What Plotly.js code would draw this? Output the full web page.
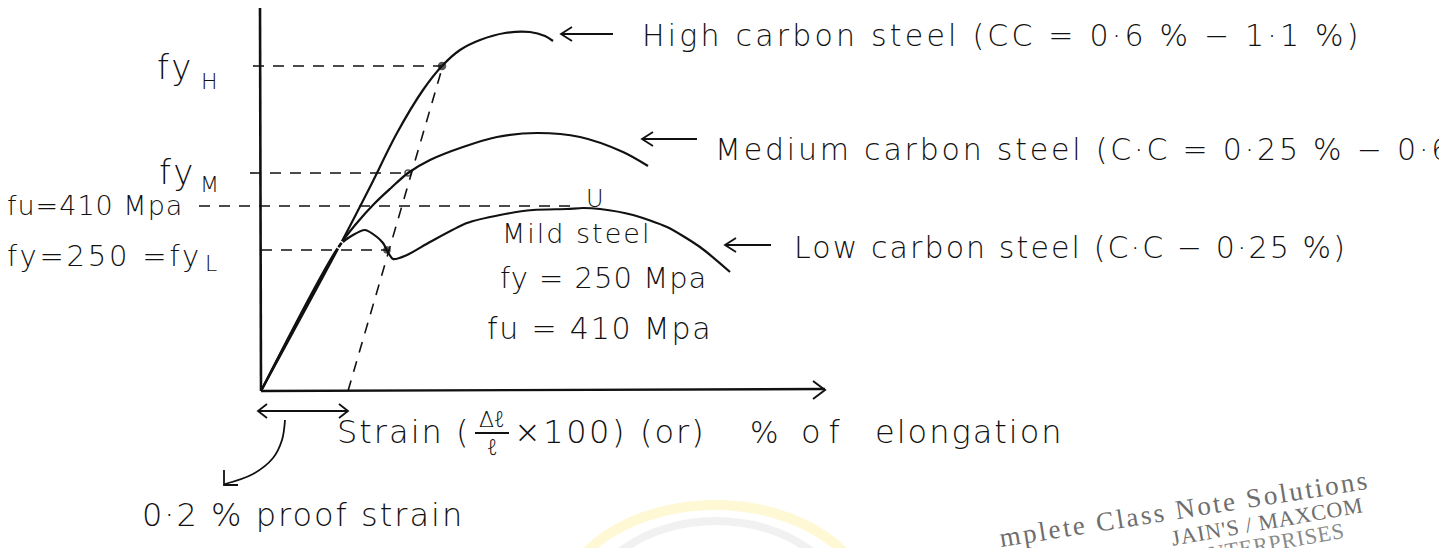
<!DOCTYPE html>
<html>
<head>
<meta charset="utf-8">
<script src="https://cdn.plot.ly/plotly-3.0.1.min.js"></script>
<style>
  html, body { margin: 0; padding: 0; background: #fff; overflow: hidden; }
  #chart { width: 1439px; height: 548px; }
</style>
</head>
<body>
<div id="chart"></div>
<script>
// Stress–strain sketch for steels. Units are drawing units:
// strain runs to the right from the origin, stress runs upward.

// High carbon steel curve
const highStrain = [0, 79, 109, 136, 162, 181, 199, 219, 244, 269, 284, 292];
const highStress = [0, 146, 204, 258, 301, 325, 341, 351, 358, 359, 355, 350];

// Medium carbon steel curve
const medStrain = [0, 79, 95, 113, 130, 147, 169, 202, 236, 276, 319, 362, 387];
const medStress = [0, 146, 167, 187, 203, 218, 231, 244, 254, 258, 254, 239, 225];

// Low carbon (mild) steel curve with upper / lower yield points
const mildStrain = [0, 79, 92, 104, 116, 122, 132, 146, 169, 206, 239, 272, 306, 322, 339, 372, 406, 439, 469];
const mildStress = [0, 146, 156, 161, 154, 148, 132, 136, 149, 168, 176, 181, 182, 183, 182, 176, 164, 144, 119];

// Yield levels (drawing units) and where each curve reaches them
const yieldHigh = 325, yieldHighStrain = 181;
const yieldMed = 218, yieldMedStrain = 147;
const yieldLow = 141, yieldLowStrain = 126;
const ultimateMild = 183, ultimateMildStrain = 322;
const elasticLimit = [79, 146];

// 0.2 % proof strain offset and the top of the offset line
const proofOffset = 87;
const proofTop = [182, 326];

// Axis extents
const axisTop = 383;
const axisEnd = 564;

// Text labels
const labelHigh = "High carbon steel (CC = 0·6 % − 1·1 %)";
const labelMed = "Medium carbon steel (C·C = 0·25 % − 0·6 %)";
const labelLow = "Low carbon steel (C·C − 0·25 %)";
const tickLabels = ["fy", "H", "fy", "M", "fu=410 Mpa", "fy=250 =fy", "L"];
const mildNotes = ["Mild steel", "fy = 250 Mpa", "fu = 410 Mpa"];
const strainTitle = ["Strain (", "Δℓ", "ℓ", "×100)", "(or)", "%", "of", "elongation"];
const proofNote = "0·2 % proof strain";
const stampLines = ["mplete Class Note Solutions", "JAIN'S / MAXCOM", "ENTERPRISES"];

const INK = '#111';
const HAND = { family: 'DejaVu Sans, Open Sans, sans-serif', color: INK, weight: 200 };

function font(size) { return Object.assign({}, HAND, { size: size }); }

function line(x, y, opts) {
  return Object.assign({
    type: 'scatter', mode: 'lines', x: x, y: y, hoverinfo: 'skip',
    line: { color: INK, width: 2 }
  }, opts || {});
}

// Left-pointing arrow: tip at (x, y), shaft of length len
function leftArrow(x, y, len) {
  return line([x + len, x, null, x + 11, x, x + 11], [y, y, null, y + 7, y, y - 7], { line: { color: INK, width: 1.8 } });
}

const dash = { color: INK, width: 1.6, dash: '11px,9px' };
const curve = (w, s) => ({ color: INK, width: w, shape: 'spline', smoothing: s });

const traces = [
  // axes
  line([0, -1], [0, axisTop], { line: { color: INK, width: 2.6 } }),
  line([0, axisEnd], [0, 2], { line: { color: INK, width: 2.4 } }),
  line([axisEnd - 12, axisEnd, axisEnd - 12], [10, 1, -8], { line: { color: INK, width: 2 } }),

  // dashed guides
  line([-8, yieldHighStrain], [yieldHigh, yieldHigh], { line: dash }),
  line([-11, yieldMedStrain], [yieldMed, yieldMed], { line: dash }),
  line([-62, ultimateMildStrain - 10], [ultimateMild + 2, ultimateMild + 2], { line: dash }),
  line([0, yieldLowStrain], [yieldLow, yieldLow], { line: dash }),
  line([proofOffset, proofTop[0]], [0, proofTop[1]], { line: dash }),

  // curves
  line(highStrain, highStress, { line: curve(2.2, 0.9) }),
  line(medStrain, medStress, { line: curve(2.2, 0.9) }),
  line(mildStrain, mildStress, { line: curve(2.2, 0.7) }),

  // yield markers
  { type: 'scatter', mode: 'markers', hoverinfo: 'skip',
    x: [yieldHighStrain, yieldMedStrain, yieldLowStrain],
    y: [yieldHigh, yieldMed, yieldLow],
    marker: { color: INK, size: [7, 6, 6], symbol: ['circle', 'circle-open-dot', 'circle'], line: { color: INK, width: 1.5 } } },
  { type: 'scatter', mode: 'markers', hoverinfo: 'skip',
    x: [elasticLimit[0]], y: [elasticLimit[1]],
    marker: { color: '#fff', size: 7, symbol: 'circle-open', line: { color: INK, width: 1.5 } } },

  // label arrows
  leftArrow(300, 357, 52),
  leftArrow(381, 252, 55),
  leftArrow(464, 146, 46),

  // proof strain span below the axis
  line([-3, proofOffset], [-20, -20], { line: { color: INK, width: 1.8 } }),
  line([6, -3, 6], [-13, -20, -27], { line: { color: INK, width: 1.8 } }),
  line([proofOffset - 9, proofOffset, proofOffset - 9], [-13, -20, -27], { line: { color: INK, width: 1.8 } }),

  // curved pointer to the note
  line([24, 21, 12, -8, -36], [-29, -49, -67, -83, -93], { line: curve(1.8, 1) }),
  line([-37, -37, -23], [-79, -94, -94], { line: { color: INK, width: 1.8 } }),

  // fraction bar
  line([214, 248], [-42, -42], { line: { color: INK, width: 1.8 } })
];

// annotation spec: [x, y, text, size, letterSpacing, extra]
const center = { xanchor: 'center', align: 'center' };
const textSpec = [
  [-106, 324, tickLabels[0], 34, 3],
  [-62, 310, tickLabels[1], 22, 0],
  [-104, 219, tickLabels[2], 34, 3],
  [-63, 207, tickLabels[3], 22, 0],
  [-256, 186, tickLabels[4], 27, 1],
  [-256, 135, tickLabels[5], 29, 2.8],
  [-58, 128, tickLabels[6], 22, 0],

  [239, 158, mildNotes[0], 27, 2],
  [237, 113, mildNotes[1], 29, 1],
  [224, 63, mildNotes[2], 30, 1.8],
  [334, 192, 'U', 24, 0, center],

  [379, 356, labelHigh, 30, 3.2],
  [452, 242, labelMed, 30, 2.8],
  [531, 144, labelLow, 30, 2.1],

  [74, -41, strainTitle[0], 32, 2],
  [231, -28, strainTitle[1], 22, 0, center],
  [231, -56, strainTitle[2], 22, 0, center],
  [251, -41, strainTitle[3], 32, 2.5],
  [377, -41, strainTitle[4], 32, 2],
  [487, -41, strainTitle[5], 30, 0],
  [538, -41, strainTitle[6], 32, 8],
  [612, -41, strainTitle[7], 32, 2],

  [-121, -124, proofNote, 32, 2]
];

const annotations = textSpec.map(s => Object.assign({
  x: s[0], y: s[1], xref: 'x', yref: 'y', text: s[2], showarrow: false,
  xanchor: 'left', yanchor: 'middle', align: 'left', font: font(s[3])
}, s[5] || {}));
const spacing = textSpec.map(s => s[4]);

// stamp in the corner: [text, x, y, size, angle, colour, spacing]
const stamp = [
  [stampLines[0], 923, -118, 27, -9, '#6e6e6e', 2.5],
  [stampLines[1], 1006, -130, 22, -10, '#6e6e6e', 0.8],
  [stampLines[2], 1008, -152, 22, -10, '#8a8a8a', 0.8]
];
stamp.forEach(s => {
  annotations.push({ x: s[1], y: s[2], xref: 'x', yref: 'y', text: s[0], showarrow: false,
    textangle: s[4], xanchor: 'center', yanchor: 'middle',
    font: { family: 'Liberation Serif, serif', size: s[3], color: s[5] } });
  spacing.push(s[6]);
});

const shapes = [
  // faint logo arcs near the bottom
  { type: 'circle', xref: 'x', yref: 'y', x0: 298, x1: 610, y0: -330, y1: -114,
    line: { color: 'rgba(255,242,170,0.5)', width: 10 }, layer: 'below' },
  { type: 'circle', xref: 'x', yref: 'y', x0: 322, x1: 588, y0: -330, y1: -130,
    line: { color: 'rgba(225,225,225,0.45)', width: 8 }, layer: 'below' }
];

const layout = {
  width: 1439, height: 548,
  margin: { l: 0, r: 0, t: 0, b: 0 },
  paper_bgcolor: '#fff', plot_bgcolor: '#fff',
  showlegend: false,
  xaxis: { range: [-261, 1178], visible: false, fixedrange: true },
  yaxis: { range: [-157, 391], visible: false, fixedrange: true },
  annotations: annotations,
  shapes: shapes
};

Plotly.newPlot('chart', traces, layout, { staticPlot: true, displayModeBar: false }).then(gd => {
  // handwritten lettering runs wide: widen the glyph spacing
  gd.querySelectorAll('.annotation').forEach(g => {
    const i = +g.getAttribute('data-index');
    const t = g.querySelector('.annotation-text');
    if (t && spacing[i]) t.style.letterSpacing = spacing[i] + 'px';
  });
});
</script>
</body>
</html>
